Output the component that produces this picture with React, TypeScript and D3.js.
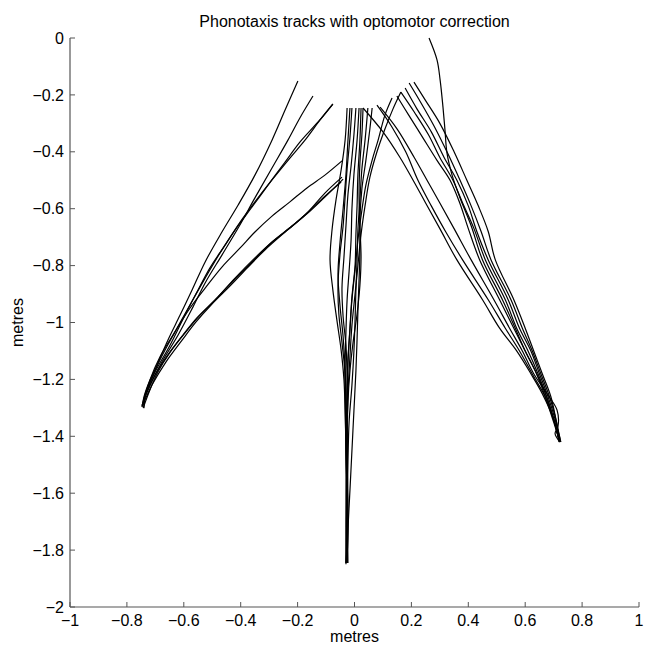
import React from "react";
import * as d3 from "d3";

// tick values / labels, metres
const xTicks = [-1, -0.8, -0.6, -0.4, -0.2, 0, 0.2, 0.4, 0.6, 0.8, 1];
const xTickLabels = ["−1", "−0.8", "−0.6", "−0.4", "−0.2", "0", "0.2", "0.4", "0.6", "0.8", "1"];
const yTicks = [0, -0.2, -0.4, -0.6, -0.8, -1, -1.2, -1.4, -1.6, -1.8, -2];
const yTickLabels = ["0", "−0.2", "−0.4", "−0.6", "−0.8", "−1", "−1.2", "−1.4", "−1.6", "−1.8", "−2"];

// tracks heading for the left speaker (-0.75, -1.3)
const leftTracks: number[][][] = [
  [[-0.199, -0.151], [-0.244, -0.253], [-0.29, -0.359], [-0.35, -0.482], [-0.409, -0.587], [-0.466, -0.682], [-0.525, -0.787], [-0.571, -0.886], [-0.613, -0.974], [-0.656, -1.062], [-0.694, -1.149], [-0.726, -1.22], [-0.742, -1.27], [-0.745, -1.295]],
  [[-0.146, -0.204], [-0.192, -0.281], [-0.234, -0.359], [-0.29, -0.457], [-0.35, -0.562], [-0.409, -0.668], [-0.466, -0.763], [-0.525, -0.861], [-0.568, -0.946], [-0.62, -1.044], [-0.677, -1.139], [-0.719, -1.22], [-0.741, -1.27], [-0.747, -1.297]],
  [[-0.076, -0.232], [-0.128, -0.295], [-0.192, -0.366], [-0.244, -0.436], [-0.304, -0.517], [-0.36, -0.594], [-0.42, -0.675], [-0.473, -0.756], [-0.525, -0.844], [-0.578, -0.938], [-0.631, -1.033], [-0.684, -1.132], [-0.719, -1.213], [-0.738, -1.26], [-0.741, -1.292]],
  [[-0.076, -0.232], [-0.121, -0.288], [-0.174, -0.359], [-0.227, -0.422], [-0.29, -0.499], [-0.35, -0.576], [-0.402, -0.647], [-0.455, -0.728], [-0.508, -0.808], [-0.55, -0.886], [-0.596, -0.974], [-0.648, -1.079], [-0.701, -1.174], [-0.733, -1.244], [-0.74, -1.301]],
  [[-0.044, -0.432], [-0.104, -0.482], [-0.167, -0.527], [-0.227, -0.576], [-0.29, -0.626], [-0.35, -0.682], [-0.402, -0.738], [-0.466, -0.805], [-0.525, -0.879], [-0.578, -0.949], [-0.631, -1.033], [-0.684, -1.121], [-0.719, -1.202], [-0.736, -1.26], [-0.74, -1.29]],
  [[-0.044, -0.489], [-0.104, -0.545], [-0.167, -0.615], [-0.227, -0.668], [-0.297, -0.724], [-0.36, -0.787], [-0.427, -0.854], [-0.49, -0.921], [-0.554, -0.984], [-0.603, -1.044], [-0.656, -1.114], [-0.701, -1.185], [-0.733, -1.255], [-0.747, -1.294]],
  [[-0.04, -0.496], [-0.097, -0.552], [-0.156, -0.608], [-0.22, -0.661], [-0.29, -0.717], [-0.35, -0.773], [-0.42, -0.844], [-0.48, -0.91], [-0.543, -0.974], [-0.596, -1.037], [-0.648, -1.104], [-0.691, -1.174], [-0.722, -1.244], [-0.743, -1.301]],
  [[-0.047, -0.506], [-0.107, -0.559], [-0.174, -0.622], [-0.244, -0.682], [-0.315, -0.745], [-0.374, -0.805], [-0.438, -0.872], [-0.501, -0.935], [-0.557, -0.998], [-0.606, -1.062], [-0.663, -1.139], [-0.712, -1.22], [-0.737, -1.273], [-0.747, -1.29]],
];

// tracks heading for the centre speaker (-0.03, -1.85)
const centreTracks: number[][][] = [
  [[-0.026, -0.246], [-0.033, -0.359], [-0.047, -0.464], [-0.065, -0.569], [-0.079, -0.675], [-0.086, -0.78], [-0.076, -0.886], [-0.062, -0.991], [-0.047, -1.097], [-0.037, -1.202], [-0.033, -1.308], [-0.03, -1.448], [-0.03, -1.624], [-0.03, -1.765], [-0.026, -1.845]],
  [[-0.016, -0.246], [-0.023, -0.359], [-0.03, -0.48], [-0.04, -0.6], [-0.051, -0.72], [-0.058, -0.83], [-0.051, -0.94], [-0.04, -1.05], [-0.033, -1.17], [-0.03, -1.29], [-0.03, -1.45], [-0.026, -1.62], [-0.03, -1.845]],
  [[0.005, -0.246], [-0.002, -0.34], [-0.012, -0.45], [-0.023, -0.55], [-0.03, -0.66], [-0.037, -0.77], [-0.044, -0.88], [-0.04, -0.98], [-0.03, -1.08], [-0.026, -1.2], [-0.026, -1.35], [-0.026, -1.52], [-0.023, -1.7], [-0.026, -1.84]],
  [[0.016, -0.246], [0.009, -0.36], [-0.002, -0.48], [-0.009, -0.6], [-0.012, -0.71], [-0.019, -0.82], [-0.026, -0.92], [-0.03, -1.03], [-0.033, -1.15], [-0.033, -1.27], [-0.03, -1.45], [-0.026, -1.62], [-0.023, -1.845]],
  [[0.023, -0.246], [0.019, -0.36], [0.012, -0.48], [0.009, -0.59], [0.005, -0.69], [0.002, -0.8], [-0.009, -0.91], [-0.016, -1.02], [-0.023, -1.14], [-0.026, -1.26], [-0.026, -1.42], [-0.026, -1.6], [-0.026, -1.845]],
  [[0.047, -0.246], [0.037, -0.36], [0.026, -0.46], [0.019, -0.57], [0.012, -0.675], [0.009, -0.78], [0.005, -0.886], [0.002, -0.99], [-0.002, -1.1], [-0.009, -1.22], [-0.019, -1.35], [-0.023, -1.49], [-0.026, -1.66], [-0.03, -1.85]],
  [[0.062, -0.246], [0.054, -0.32], [0.04, -0.43], [0.026, -0.53], [0.019, -0.64], [0.019, -0.75], [0.016, -0.85], [0.012, -0.96], [0.009, -1.06], [0.005, -1.17], [-0.002, -1.31], [-0.009, -1.45], [-0.016, -1.59], [-0.023, -1.73], [-0.026, -1.845]],
  [[0.132, -0.211], [0.107, -0.271], [0.083, -0.359], [0.062, -0.429], [0.04, -0.517], [0.026, -0.605], [0.012, -0.71], [0.002, -0.815], [-0.009, -0.921], [-0.016, -1.026], [-0.023, -1.132], [-0.026, -1.272], [-0.026, -1.448], [-0.026, -1.845]],
  [[0.163, -0.19], [0.135, -0.25], [0.107, -0.32], [0.079, -0.4], [0.054, -0.49], [0.037, -0.59], [0.023, -0.69], [0.012, -0.8], [0.002, -0.9], [-0.009, -1.01], [-0.016, -1.12], [-0.023, -1.25], [-0.026, -1.4], [-0.026, -1.6], [-0.03, -1.845]],
  [[-0.009, -0.246], [-0.016, -0.35], [-0.026, -0.46], [-0.033, -0.56], [-0.04, -0.66], [-0.051, -0.76], [-0.058, -0.87], [-0.055, -0.97], [-0.044, -1.07], [-0.033, -1.18], [-0.03, -1.3], [-0.026, -1.5], [-0.026, -1.845]],
  [[0.03, -0.246], [0.026, -0.34], [0.019, -0.44], [0.016, -0.55], [0.019, -0.66], [0.023, -0.77], [0.019, -0.87], [0.009, -0.97], [-0.005, -1.07], [-0.016, -1.17], [-0.023, -1.28], [-0.026, -1.45], [-0.023, -1.65], [-0.026, -1.845]],
];

// tracks heading for the right speaker (0.72, -1.42)
const rightTracks: number[][][] = [
  [[0.03, -0.246], [0.1, -0.33], [0.16, -0.42], [0.206, -0.5], [0.25, -0.58], [0.3, -0.67], [0.36, -0.78], [0.45, -0.92], [0.51, -1.02], [0.57, -1.1], [0.62, -1.18], [0.66, -1.25], [0.7, -1.34], [0.722, -1.42]],
  [[0.079, -0.236], [0.13, -0.31], [0.18, -0.4], [0.223, -0.5], [0.27, -0.59], [0.32, -0.68], [0.38, -0.78], [0.47, -0.92], [0.53, -1.02], [0.58, -1.1], [0.63, -1.19], [0.67, -1.26], [0.7, -1.34], [0.72, -1.42]],
  [[0.09, -0.243], [0.15, -0.32], [0.21, -0.42], [0.255, -0.5], [0.3, -0.58], [0.35, -0.67], [0.41, -0.78], [0.49, -0.92], [0.545, -1.02], [0.59, -1.1], [0.63, -1.18], [0.68, -1.255], [0.712, -1.308], [0.715, -1.367], [0.705, -1.39], [0.722, -1.42]],
  [[0.149, -0.204], [0.19, -0.27], [0.24, -0.35], [0.29, -0.43], [0.336, -0.5], [0.37, -0.58], [0.4, -0.67], [0.44, -0.78], [0.51, -0.92], [0.56, -1.02], [0.6, -1.1], [0.64, -1.18], [0.67, -1.26], [0.7, -1.35], [0.722, -1.42]],
  [[0.163, -0.19], [0.21, -0.26], [0.26, -0.34], [0.3, -0.42], [0.346, -0.5], [0.38, -0.58], [0.42, -0.67], [0.46, -0.78], [0.53, -0.92], [0.57, -1.02], [0.61, -1.1], [0.645, -1.18], [0.675, -1.26], [0.7, -1.34], [0.72, -1.42]],
  [[0.178, -0.176], [0.22, -0.25], [0.27, -0.33], [0.315, -0.42], [0.36, -0.5], [0.4, -0.59], [0.43, -0.68], [0.47, -0.78], [0.54, -0.92], [0.58, -1.02], [0.62, -1.1], [0.65, -1.18], [0.68, -1.26], [0.705, -1.34], [0.725, -1.42]],
  [[0.192, -0.158], [0.235, -0.23], [0.28, -0.31], [0.325, -0.4], [0.371, -0.5], [0.41, -0.59], [0.445, -0.68], [0.48, -0.78], [0.55, -0.92], [0.59, -1.02], [0.625, -1.1], [0.655, -1.18], [0.685, -1.26], [0.71, -1.35], [0.72, -1.42]],
  [[0.209, -0.155], [0.25, -0.22], [0.3, -0.3], [0.35, -0.4], [0.395, -0.5], [0.435, -0.59], [0.47, -0.68], [0.495, -0.78], [0.56, -0.92], [0.6, -1.02], [0.63, -1.1], [0.66, -1.18], [0.69, -1.26], [0.71, -1.35], [0.725, -1.42]],
  [[0.262, 0.0], [0.29, -0.077], [0.301, -0.148], [0.311, -0.243], [0.318, -0.323], [0.325, -0.404], [0.343, -0.482], [0.37, -0.56], [0.41, -0.66], [0.45, -0.78], [0.52, -0.92], [0.565, -1.02], [0.6, -1.1], [0.64, -1.18], [0.675, -1.26], [0.7, -1.34], [0.722, -1.42]],
];

const W = 645;
const H = 649;
const font = "'Liberation Sans', Arial, Helvetica, sans-serif";

export default function App() {
  const x = d3.scaleLinear().domain([-1, 1]).range([70, 639]);
  const y = d3.scaleLinear().domain([-2, 0]).range([607, 38]);
  const line = d3
    .line<number[]>()
    .x(d => x(d[0]))
    .y(d => y(d[1]))
    .curve(d3.curveCatmullRom.alpha(0.5));

  const allTracks = [...leftTracks, ...centreTracks, ...rightTracks];
  const axisColor = "#555";
  const midX = (x(-1) + x(1)) / 2;

  return (
    <svg
      width={W}
      height={H}
      style={{ position: "absolute", left: 0, top: 0, background: "#fff" }}
      fontFamily={font}
    >
      <rect x={0} y={0} width={W} height={H} fill="#fff" />
      <text x={midX} y={27} textAnchor="middle" fontSize={16} fill="#000">
        Phonotaxis tracks with optomotor correction
      </text>

      <g>
        {allTracks.map((t, i) => (
          <path key={i} d={line(t) || ""} fill="none" stroke="#000" strokeWidth={1.2} />
        ))}
      </g>

      {/* y axis */}
      <line x1={x(-1)} x2={x(-1)} y1={y(0)} y2={y(-2)} stroke={axisColor} strokeWidth={1.2} />
      {yTicks.map((v, i) => (
        <g key={"y" + i}>
          <line x1={x(-1)} x2={x(-1) + 5} y1={y(v)} y2={y(v)} stroke={axisColor} />
          <text x={x(-1) - 6} y={y(v)} dy="0.35em" textAnchor="end" fontSize={16} fill="#000">
            {yTickLabels[i]}
          </text>
        </g>
      ))}

      {/* x axis */}
      <line x1={x(-1)} x2={x(1)} y1={y(-2)} y2={y(-2)} stroke={axisColor} strokeWidth={1.2} />
      {xTicks.map((v, i) => (
        <g key={"x" + i}>
          <line x1={x(v)} x2={x(v)} y1={y(-2)} y2={y(-2) - 5} stroke={axisColor} />
          <text x={x(v)} y={y(-2) + 19} textAnchor="middle" fontSize={16} fill="#000">
            {xTickLabels[i]}
          </text>
        </g>
      ))}

      <text x={midX} y={642} textAnchor="middle" fontSize={16} fill="#000">
        metres
      </text>
      <text
        transform={`translate(23, ${(y(0) + y(-2)) / 2}) rotate(-90)`}
        textAnchor="middle"
        fontSize={16}
        fill="#000"
      >
        metres
      </text>
    </svg>
  );
}
